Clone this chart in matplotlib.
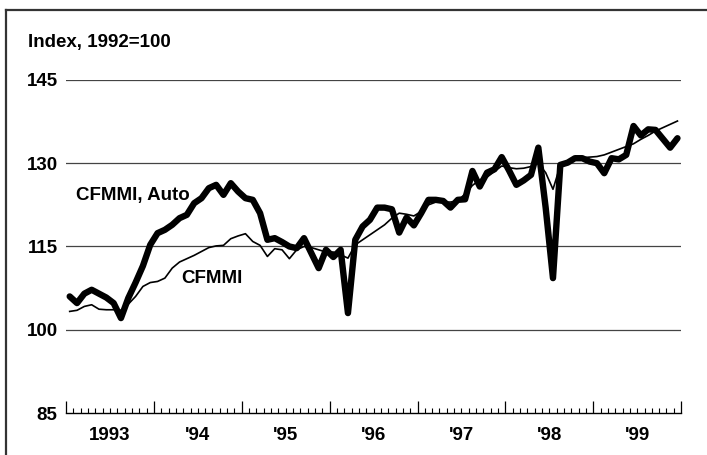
import matplotlib
matplotlib.use("Agg")
import matplotlib.pyplot as plt
from matplotlib.lines import Line2D

plt.rcParams['font.family'] = ['Liberation Sans', 'DejaVu Sans']
plt.rcParams['font.weight'] = 'bold'

# monthly index, Jan 1993 - Dec 1999
cfmmi_auto = [106.0, 104.8, 106.5, 107.2, 106.5, 105.8, 104.8, 102.1, 105.7, 108.5, 111.5, 115.3,
              117.4, 118.0, 118.9, 120.1, 120.7, 122.8, 123.7, 125.5, 126.1, 124.3, 126.4, 124.9,
              123.7, 123.4, 121.0, 116.2, 116.5, 115.8, 115.0, 114.7, 116.5, 113.8, 111.1, 114.4,
              113.1, 114.4, 103.0, 116.2, 118.6, 119.8, 122.0, 122.0, 121.7, 117.5, 120.2, 118.8,
              121.0, 123.4, 123.4, 123.2, 122.0, 123.4, 123.5, 128.6, 125.8, 128.3, 128.9, 131.1,
              128.7, 126.1, 126.9, 127.9, 132.8, 122.0, 109.3, 129.7, 130.1, 130.9, 130.9, 130.3,
              130.0, 128.2, 130.9, 130.7, 131.5, 136.7, 135.0, 136.1, 136.0, 134.4, 132.8, 134.5]
cfmmi = [103.3, 103.5, 104.2, 104.5, 103.7, 103.6, 103.6, 103.5, 104.6, 106.0, 107.8, 108.5,
         108.7, 109.3, 111.1, 112.2, 112.8, 113.4, 114.1, 114.8, 115.1, 115.2, 116.4, 116.9,
         117.3, 115.9, 115.2, 113.2, 114.6, 114.4, 112.8, 114.4, 115.0, 114.8, 114.4, 114.0,
         114.0, 113.5, 112.9, 115.3, 116.2, 117.1, 118.0, 118.9, 120.1, 121.0, 120.8, 120.5,
         121.3, 122.5, 123.0, 123.0, 123.0, 123.2, 124.5, 126.0, 127.0, 127.5, 128.5, 129.5,
         129.2, 129.0, 129.1, 129.4, 130.0, 128.3, 125.3, 129.6, 130.3, 130.8, 131.0, 131.1,
         131.2, 131.5, 132.0, 132.5, 133.0, 133.5, 134.3, 135.0, 135.8, 136.4, 137.0, 137.6]
years = ['1993', "'94", "'95", "'96", "'97", "'98", "'99"]
yticks = [85, 100, 115, 130, 145]

months = [i + 0.5 for i in range(len(cfmmi))]

fig = plt.figure(figsize=(7.07, 4.55), dpi=100)
ax = fig.add_axes([0.0934, 0.0923, 0.870, 0.732])

for v in yticks[1:]:
    ax.axhline(v, color='#444444', lw=0.9, zorder=1)

ax.plot(months, cfmmi, color='black', lw=1.2, solid_joinstyle='round', zorder=3)
ax.plot(months, cfmmi_auto, color='black', lw=4.6, solid_joinstyle='round',
        solid_capstyle='round', zorder=4)

ax.set_xlim(0, 84)
ax.set_ylim(85, 145)
for s in ['top', 'right', 'left']:
    ax.spines[s].set_visible(False)
ax.spines['bottom'].set_linewidth(1.0)

ax.set_yticks(yticks)
ax.tick_params(axis='y', length=0, pad=6, labelsize=13.5)
ax.set_xticks(range(0, 85, 12))
ax.set_xticks(range(0, 85), minor=True)
ax.set_xticklabels([])
ax.tick_params(axis='x', which='major', direction='in', length=9, width=0.9)
ax.tick_params(axis='x', which='minor', direction='in', length=3.8, width=0.8)

for k, yr in enumerate(years):
    ax.annotate(yr, xy=(6 + 12 * k, 0), xycoords=('data', 'axes fraction'),
                xytext=(0, -16), textcoords='offset points',
                ha='center', va='center', fontsize=13.5, fontweight='bold')

ax.text(1.4, 124.1, 'CFMMI, Auto', fontsize=13.5, fontweight='bold', ha='left', va='center')
ax.text(15.7, 109.3, 'CFMMI', fontsize=13.5, fontweight='bold', ha='left', va='center')

fig.text(0.0396, 0.9055, 'Index, 1992=100', fontsize=13.5, fontweight='bold',
         ha='left', va='center')

# frame around the chart
fig.add_artist(Line2D([6 / 707, 6 / 707], [0, 1 - 9.5 / 455], transform=fig.transFigure,
                      color='#333333', lw=1.6))
fig.add_artist(Line2D([6 / 707, 1], [1 - 9.5 / 455, 1 - 9.5 / 455], transform=fig.transFigure,
                      color='#333333', lw=1.6))

fig.savefig('out.png', dpi=100)
